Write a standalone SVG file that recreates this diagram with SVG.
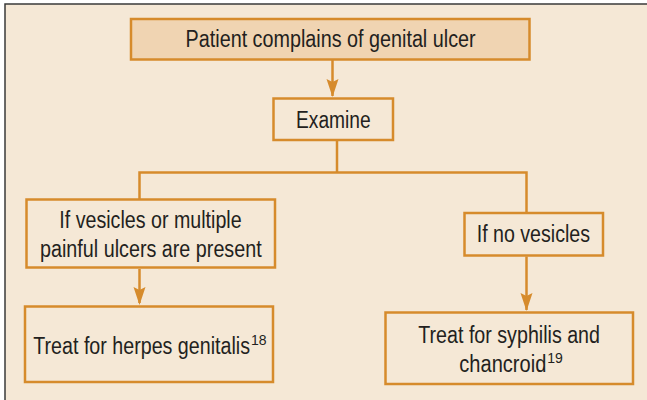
<svg xmlns="http://www.w3.org/2000/svg" width="647" height="400" viewBox="0 0 647 400">
  <defs>
    <style>
      .box { fill: #f5e8d6; stroke: #d68b2c; stroke-width: 2.5; }
      .box.top { fill: #f0d4b2; }
      .ln { fill: none; stroke: #d68b2c; stroke-width: 2.5; }
      .ah { fill: #d68b2c; }
      .t { font-family: "Liberation Sans", Arial, sans-serif; font-size: 23px; fill: #231f20; }
      .sup { font-size: 14px; }
    </style>
  </defs>

  <rect x="0" y="0" width="647" height="400" fill="#ffffff"/>
  <rect x="5" y="4" width="642" height="396" fill="#f5e8d6"/>
  <path d="M5,400 V4 H647" fill="none" stroke="#3a3a3a" stroke-width="1.5"/>

  <g id="connectors">
    <line class="ln" x1="332.5" y1="60" x2="332.5" y2="96"/>
    <path class="ln" d="M337,141 V172.5 M139.5,199 V172.5 H526.5 V212"/>
    <line class="ln" x1="139.5" y1="269" x2="139.5" y2="303"/>
    <line class="ln" x1="526.5" y1="256.5" x2="526.5" y2="310"/>
    <path class="ah" d="M326.5,79 L332.5,82 L338.5,79 L332.5,97 Z"/>
    <path class="ah" d="M133.5,287 L139.5,290 L145.5,287 L139.5,305 Z"/>
    <path class="ah" d="M520.5,293 L526.5,296 L532.5,293 L526.5,311 Z"/>
  </g>

  <g id="node-complaint">
    <rect class="box top" x="131" y="19" width="398.5" height="40.5"/>
    <text class="t" x="185.6" y="47" textLength="290" lengthAdjust="spacingAndGlyphs">Patient complains of genital ulcer</text>
  </g>

  <g id="node-examine">
    <rect class="box" x="273.5" y="98.5" width="119.5" height="41.5"/>
    <text class="t" x="296" y="128.3" textLength="74.7" lengthAdjust="spacingAndGlyphs">Examine</text>
  </g>

  <g id="node-vesicles">
    <rect class="box" x="26.5" y="199.5" width="248.5" height="68"/>
    <text class="t" x="59.3" y="228.3" textLength="182.3" lengthAdjust="spacingAndGlyphs">If vesicles or multiple</text>
    <text class="t" x="40" y="256.7" textLength="221.7" lengthAdjust="spacingAndGlyphs">painful ulcers are present</text>
  </g>

  <g id="node-no-vesicles">
    <rect class="box" x="464.5" y="213" width="138.5" height="42.5"/>
    <text class="t" x="476.7" y="241.7" textLength="113.3" lengthAdjust="spacingAndGlyphs">If no vesicles</text>
  </g>

  <g id="node-herpes">
    <rect class="box" x="25" y="306.5" width="248" height="75.5"/>
    <text class="t" x="33.3" y="354"><tspan textLength="216.7" lengthAdjust="spacingAndGlyphs">Treat for herpes genitalis</tspan><tspan class="sup" dx="1" dy="-9.5">18</tspan></text>
  </g>

  <g id="node-syphilis">
    <rect class="box" x="385.5" y="312.5" width="247.5" height="71.5"/>
    <text class="t" x="418.3" y="343.3" textLength="181.7" lengthAdjust="spacingAndGlyphs">Treat for syphilis and</text>
    <text class="t" x="459.3" y="371.7"><tspan textLength="87" lengthAdjust="spacingAndGlyphs">chancroid</tspan><tspan class="sup" dx="1" dy="-9.2">19</tspan></text>
  </g>
</svg>
